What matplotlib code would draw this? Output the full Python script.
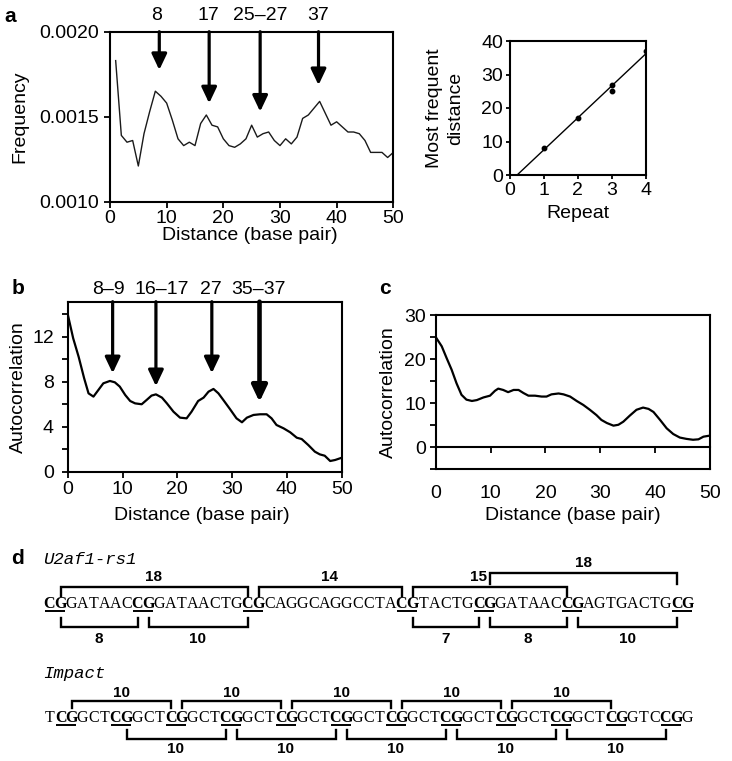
import numpy as np
import matplotlib.pyplot as plt
from matplotlib.ticker import MultipleLocator, FormatStrFormatter

plt.rcParams['font.family'] = 'Liberation Sans'
plt.rcParams['font.size'] = 14

# panel a: frequency of CpG distances
dist_a = list(range(1, 51))
freq_a = [0.00183, 0.00139, 0.00135, 0.00136, 0.00121, 0.00140, 0.00153, 0.00165, 0.00162, 0.00158,
          0.00148, 0.00137, 0.00133, 0.00135, 0.00133, 0.00146, 0.00151, 0.00145, 0.00144, 0.00137,
          0.00133, 0.00132, 0.00134, 0.00137, 0.00145, 0.00138, 0.00140, 0.00141, 0.00136, 0.00133,
          0.00137, 0.00134, 0.00138, 0.00149, 0.00151, 0.00155, 0.00159, 0.00152, 0.00145, 0.00147,
          0.00144, 0.00141, 0.00141, 0.00140, 0.00136, 0.00129, 0.00129, 0.00129, 0.00126, 0.00129]
arrow_x_a = [8.7, 17.5, 26.5, 36.8]
arrow_tip_a = [0.001775, 0.001579, 0.00153, 0.001686]
arrow_lab_a = ["8", "17", "25\u201327", "37"]
label_x_a = [8.3, 17.3, 26.5, 36.7]

# panel a inset
repeat = [1, 2, 3, 3, 4]
most_freq = [8, 17, 27, 25, 37]

# panel b: autocorrelation
dist_b = [0, 1, 2, 3, 3.8, 4.7, 5.6, 6.5, 7.7, 8.6, 9.5, 10.5, 11.4, 12.3, 13.5, 14.4, 15.3, 16.1,
          17.2, 18.1, 19.3, 20.5, 21.7, 22.6, 23.8, 24.8, 25.7, 26.6, 27.5, 28.4, 29.6, 30.8, 31.8,
          32.7, 33.9, 35.1, 36.3, 37.2, 38.1, 39.4, 40.6, 41.8, 42.7, 43.9, 45.1, 46.0, 46.9, 47.9,
          48.8, 50]
ac_b = [14.0, 11.85, 10.2, 8.3, 6.96, 6.67, 7.26, 7.85, 8.06, 7.94, 7.56, 6.81, 6.28, 6.07, 5.99,
        6.37, 6.76, 6.87, 6.58, 6.07, 5.33, 4.8, 4.74, 5.33, 6.28, 6.58, 7.11, 7.35, 6.96, 6.37,
        5.57, 4.74, 4.39, 4.8, 5.04, 5.1, 5.1, 4.74, 4.15, 3.85, 3.5, 3.02, 2.9, 2.37, 1.78, 1.54,
        1.42, 0.95, 1.04, 1.24]
arrow_x_b = [8.2, 16.1, 26.3, 35.0]
arrow_tip_b = [8.75, 7.6, 8.75, 6.2]
arrow_lab_b = ["8\u20139", "16\u201317", "27", "35\u201337"]
label_x_b = [7.4, 17.1, 26.1, 34.9]

# panel c: autocorrelation
dist_c = [0, 1.1, 2.0, 2.9, 3.8, 4.7, 5.6, 6.6, 7.5, 8.7, 9.9, 10.8, 11.4, 12.3, 13.2, 14.2, 15.1,
          16.0, 16.9, 18.1, 19.3, 20.2, 21.1, 22.4, 23.3, 24.5, 25.7, 26.9, 28.1, 29.3, 30.2, 31.2,
          32.4, 33.3, 34.2, 35.4, 36.6, 37.8, 38.8, 39.7, 40.9, 42.1, 43.3, 44.5, 45.7, 46.9, 47.9,
          48.8, 50]
ac_c = [25.0, 22.9, 20.2, 17.6, 14.5, 11.9, 10.8, 10.5, 10.7, 11.3, 11.7, 12.8, 13.3, 13.0, 12.5,
        13.0, 13.0, 12.3, 11.7, 11.7, 11.5, 11.5, 12.0, 12.2, 12.0, 11.5, 10.5, 9.6, 8.5, 7.3, 6.2,
        5.5, 4.9, 5.1, 5.8, 7.2, 8.5, 9.0, 8.7, 8.0, 6.2, 4.3, 3.0, 2.2, 1.9, 1.7, 1.8, 2.4, 2.65]

# panel d: sequences and CG-pair brackets (pairs are indexes into the CG sites)
u2_seq = "CGGATAACCGGATAACTGCGCAGGCAGGCCTACGTACTGCGGATAACCGAGTGACTGCG"
u2_top = [(0, 2), (2, 3), (3, 5)]
u2_top2 = [(4, 6)]
u2_bottom = [(0, 1), (1, 2), (3, 4), (4, 5), (5, 6)]
imp_seq = "TCGGCTCGGCTCGGCTCGGCTCGGCTCGGCTCGGCTCGGCTCGGCTCGGCTCGGTCCGG"
imp_top = [(0, 2), (2, 4), (4, 6), (6, 8), (8, 10)]
imp_bottom = [(1, 3), (3, 5), (5, 7), (7, 9), (9, 11)]

W, H = 732, 761
fig = plt.figure(figsize=(W / 100, H / 100), dpi=100)


def rect(l, t, r, b):
    return [l / W, 1 - b / H, (r - l) / W, (b - t) / H]


def ftext(px, py, s, **kw):
    fig.text(px / W, 1 - py / H, s, **kw)


def frame(ax):
    for sp in ax.spines.values():
        sp.set_linewidth(1.5)
    ax.tick_params(which='both', direction='out', length=4, width=1.3)


def arrows(ax, xs, tips, labs, lab_xs, top, lab_y, widths):
    for x, tip, lw in zip(xs, tips, widths):
        ax.annotate('', xy=(x, tip), xytext=(x, top),
                    arrowprops=dict(arrowstyle='-|>,head_length=0.8,head_width=0.38',
                                    lw=lw, color='black', shrinkA=0, shrinkB=0,
                                    mutation_scale=12))
    for lx, lab in zip(lab_xs, labs):
        ax.text(lx, lab_y, lab, transform=ax.get_xaxis_transform(),
                ha='center', va='center')


# ---- a
ax_a = fig.add_axes(rect(110, 31.7, 393.3, 201.7))
ax_a.plot(dist_a, freq_a, color='#1a1a1a', lw=1.0)
ax_a.set_xlim(0, 50)
ax_a.set_ylim(0.0010, 0.0020)
ax_a.set_xticks(range(0, 51, 10))
ax_a.set_yticks([0.0010, 0.0015, 0.0020])
ax_a.yaxis.set_major_formatter(FormatStrFormatter('%.4f'))
frame(ax_a)
ax_a.tick_params(axis='x', pad=2)
ax_a.tick_params(axis='y', pad=4)
arrows(ax_a, arrow_x_a, arrow_tip_a, arrow_lab_a, label_x_a, 0.0020, 1.098, [2.3] * 4)
ftext(20, 117, 'Frequency', rotation=90, ha='center', va='center')
ftext(250, 235, 'Distance (base pair)', ha='center', va='center')

# ---- a inset
ax_i = fig.add_axes(rect(510, 41, 645.7, 175))
ax_i.plot(repeat, most_freq, 'o', ms=3.2, color='black')
k, c0 = np.polyfit(repeat, most_freq, 1)
fit_x = np.array([-c0 / k, 4])
ax_i.plot(fit_x, k * fit_x + c0, color='black', lw=1.0)
ax_i.set_xlim(0, 4)
ax_i.set_ylim(0, 40)
ax_i.set_xticks(range(0, 5))
ax_i.set_yticks(range(0, 41, 10))
frame(ax_i)
ax_i.tick_params(length=3, pad=2)
ftext(445, 108, 'Most frequent\ndistance', rotation=90, ha='center', va='center',
      linespacing=1.3, multialignment='center')
ftext(578, 213, 'Repeat', ha='center', va='center')

# ---- b
ax_b = fig.add_axes(rect(67.7, 301.7, 341.7, 471.7))
ax_b.plot(dist_b, ac_b, color='black', lw=1.6)
ax_b.set_xlim(0, 50)
ax_b.set_ylim(0, 15.1)
ax_b.set_xticks(range(0, 51, 10))
ax_b.set_yticks([0, 4, 8, 12])
ax_b.yaxis.set_minor_locator(MultipleLocator(2))
frame(ax_b)
ax_b.tick_params(axis='x', pad=3)
ax_b.tick_params(axis='y', pad=6)
arrows(ax_b, arrow_x_b, arrow_tip_b, arrow_lab_b, label_x_b, 15.1, 1.069,
       [2.3, 2.3, 2.3, 3.3])
ftext(18, 387, 'Autocorrelation', rotation=90, ha='center', va='center')
ftext(202, 515, 'Distance (base pair)', ha='center', va='center')

# ---- c
ax_c = fig.add_axes(rect(435.7, 315, 710, 469.3))
ax_c.plot(dist_c, ac_c, color='black', lw=1.6)
c_lim = (-5, 30)
ax_c.set_xlim(0, 50)
ax_c.set_ylim(*c_lim)
ax_c.set_xticks(range(0, 51, 10))
ax_c.set_yticks([0, 10, 20, 30])
ax_c.yaxis.set_minor_locator(MultipleLocator(5))
frame(ax_c)
ax_c.tick_params(axis='x', length=0, pad=11)
ax_c.tick_params(axis='y', pad=3)
zero = ax_c.secondary_xaxis((0 - c_lim[0]) / (c_lim[1] - c_lim[0]))
zero.set_xticks([10, 20, 30, 40])
zero.tick_params(labelbottom=False, direction='out', length=4, width=1.3)
zero.spines['bottom'].set_linewidth(1.5)
ftext(388, 392, 'Autocorrelation', rotation=90, ha='center', va='center')
ftext(573, 515, 'Distance (base pair)', ha='center', va='center')

# ---- d
ax_d = fig.add_axes([0, 0, 1, 230 / H])
ax_d.set_xlim(-44 / 11, (W - 44) / 11)
ax_d.set_ylim(H, H - 230)
ax_d.axis('off')


def cg_sites(seq):
    return [i for i in range(len(seq) - 1) if seq[i:i + 2] == 'CG']


def draw_seq(seq, y_base, y_ul):
    sites = cg_sites(seq)
    bold = set()
    for s in sites:
        bold.update((s, s + 1))
    for i, ch in enumerate(seq):
        ax_d.text(i + 0.5, y_base, ch, ha='center', va='baseline',
                  family='Liberation Serif', fontsize=11.5,
                  fontweight='bold' if i in bold else 'normal')
    ax_d.hlines([y_ul] * len(sites), [s + 0.05 for s in sites],
                [s + 1.95 for s in sites], color='black', lw=1.4)
    return sites


def draw_brackets(sites, pairs, y_line, y_leg, y_lab, avoid=()):
    for a, b in pairs:
        x0, x1 = sites[a] + 1.5, sites[b] + 0.5
        ax_d.plot([x0, x0, x1, x1], [y_leg, y_line, y_line, y_leg], color='black',
                  lw=1.7, solid_joinstyle='miter')
        xm, ha = (x0 + x1) / 2, 'center'
        for xa in avoid:
            if abs(xa - xm) < 1.2:
                xm, ha = xa - 0.25, 'right'
        ax_d.text(xm, y_lab, str(sites[b] - sites[a]), ha=ha, va='center',
                  fontsize=11, fontweight='bold')


ax_d.text(-0.1, 560, 'U2af1-rs1', family='Liberation Mono', style='italic',
          fontsize=12.5, ha='left', va='center')
u2_sites = draw_seq(u2_seq, 608.5, 611.3)
legs2 = [x for a, b in u2_top2 for x in (u2_sites[a] + 1.5, u2_sites[b] + 0.5)]
draw_brackets(u2_sites, u2_top2, 572.7, 584, 562.7)
draw_brackets(u2_sites, u2_top, 586.7, 596, 577, avoid=legs2)
draw_brackets(u2_sites, u2_bottom, 627.3, 617.7, 639)

ax_d.text(-0.1, 673.3, 'Impact', family='Liberation Mono', style='italic',
          fontsize=12.5, ha='left', va='center')
imp_sites = draw_seq(imp_seq, 722, 724.8)
draw_brackets(imp_sites, imp_top, 700.7, 708, 692.7)
draw_brackets(imp_sites, imp_bottom, 739, 730, 749)

for lab, px, py in [('a', 10, 17), ('b', 18, 288), ('c', 385, 288), ('d', 18, 559)]:
    ftext(px, py, lab, fontsize=15, fontweight='bold', ha='center', va='center')

fig.savefig('out.png', dpi=100)
